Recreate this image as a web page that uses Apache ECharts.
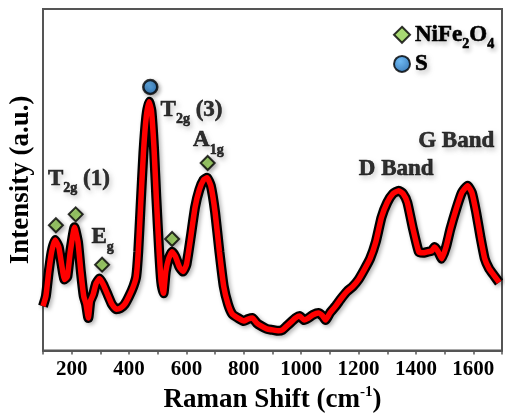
<!DOCTYPE html>
<html>
<head>
<meta charset="utf-8">
<script src="https://cdn.jsdelivr.net/npm/echarts@6/dist/echarts.min.js"></script>
<style>
  html, body { margin: 0; padding: 0; background: #fff; }
  #chart { width: 505px; height: 419px; }
</style>
</head>
<body>
<div id="chart"></div>
<script>
// Raman spectrum
const ramanShift = [100, 110, 120, 130, 142, 155, 165, 175, 185, 195, 210, 222, 232, 242, 250, 258, 265, 275, 285, 297,
  310, 325, 340, 355, 370, 385, 400, 415, 425, 432, 440, 450, 460, 470, 478, 487, 495, 505, 512, 520,
  528, 538, 550, 562, 575, 588, 600, 615, 630, 645, 660, 672, 685, 700, 715, 730, 745, 760, 780, 800,
  815, 830, 845, 860, 880, 900, 920, 935, 950, 965, 980, 995, 1010, 1025, 1040, 1060, 1075, 1085, 1100, 1120,
  1140, 1160, 1180, 1200, 1220, 1240, 1260, 1280, 1300, 1320, 1340, 1355, 1370, 1390, 1410, 1425, 1440, 1455, 1465, 1478,
  1490, 1505, 1520, 1540, 1560, 1580, 1595, 1610, 1625, 1640, 1655, 1670, 1690]
const intensity = [45, 55, 80, 100, 112, 105, 87, 72, 75, 100, 125, 110, 80, 55, 47, 33, 50, 57, 68, 73,
  67, 57, 47, 42, 43, 47, 55, 65, 75, 100, 145, 200, 237, 252, 243, 205, 155, 100, 70, 58,
  80, 93, 100, 95, 85, 80, 87, 115, 145, 163, 173, 175, 167, 140, 100, 65, 47, 37, 33, 30,
  32, 33, 28, 25, 22, 21, 20, 21, 25, 29, 33, 35, 31, 33, 36, 38, 35, 31, 38, 45,
  53, 60, 65, 72, 82, 93, 110, 135, 150, 159, 162, 159, 150, 123, 100, 99, 100, 101, 105, 100,
  93, 105, 123, 143, 160, 167, 160, 140, 115, 93, 83, 77, 69]

// peak markers
const spinelPeaks = [[145, 127], [214, 138], [306, 87], [550, 113], [674, 190]]
const sulfurPeaks = [[474, 267]]

// annotation labels: [x, y, text]
const peakLabels = [
  [117, 174, '{m|T}{s|2g}{m| (1)}'],
  [269, 115, '{m|E}{s|g}'],
  [510, 244, '{m|T}{s|2g}{m| (3)}'],
  [623, 213, '{m|A}{s|1g}'],
  [1201, 184, '{m|D Band}'],
  [1408, 212, '{m|G Band}']
]

const xTicks = { min: 100, max: 1700, step: 100 }

const serif = 'Liberation Serif'
// bold text with a soft drop shadow, as in the figure
const ink = {
  color: '#000',
  textBorderColor: '#000',
  textBorderWidth: 0.6,
  textShadowColor: 'rgba(0,0,0,0.22)',
  textShadowBlur: 5,
  textShadowOffsetX: 2,
  textShadowOffsetY: 3
}
const rich = {
  m: { fontFamily: serif, fontWeight: 'bold', fontSize: 23, lineHeight: 34, verticalAlign: 'middle', ...ink },
  s: { fontFamily: serif, fontWeight: 'bold', fontSize: 14, lineHeight: 34, verticalAlign: 'bottom', ...ink }
}

const spectrum = ramanShift.map((x, i) => [x, intensity[i]])

const chart = echarts.init(document.getElementById('chart'))
chart.setOption({
  animation: false,
  grid: {
    left: 43, top: 9, right: -3, bottom: 64,
    show: true, borderColor: '#555', borderWidth: 2
  },
  legend: {
    orient: 'vertical',
    left: 388, top: 18,
    itemGap: 0,
    itemWidth: 16, itemHeight: 16,
    data: ['NiFe2O4', 'S'],
    formatter: function (name) {
      return name === 'NiFe2O4' ? '{m|NiFe}{s|2}{m|O}{s|4}' : '{m|S}'
    },
    textStyle: { color: '#000', rich: rich }
  },
  xAxis: {
    type: 'value',
    min: xTicks.min, max: xTicks.max, interval: xTicks.step,
    name: '{m|Raman Shift (cm}{sup|-1}{m|)}',
    nameLocation: 'middle',
    nameGap: 27,
    nameTextStyle: {
      rich: {
        m: { fontFamily: serif, fontWeight: 'bold', fontSize: 27, color: '#000', lineHeight: 32, verticalAlign: 'middle' },
        sup: { fontFamily: serif, fontWeight: 'bold', fontSize: 15, color: '#000', lineHeight: 32, verticalAlign: 'top' }
      }
    },
    splitLine: { show: false },
    axisLine: { lineStyle: { color: '#555', width: 2 } },
    axisTick: { show: true, inside: false, length: 4, lineStyle: { color: '#555', width: 1.5 } },
    axisLabel: {
      margin: 8,
      fontFamily: serif, fontWeight: 'bold', fontSize: 21, color: '#000',
      formatter: function (v) { return v % 200 === 0 ? String(v) : '' }
    }
  },
  yAxis: {
    type: 'value',
    min: 0, max: 346,
    name: 'Intensity (a.u.)',
    nameLocation: 'middle',
    nameGap: 8,
    nameTextStyle: { fontFamily: serif, fontWeight: 'bold', fontSize: 27, color: '#000' },
    splitLine: { show: false },
    axisLine: { show: true, lineStyle: { color: '#555', width: 2 } },
    axisTick: { show: false },
    axisLabel: { show: false }
  },
  series: [
    {
      name: 'outline',
      type: 'line',
      data: spectrum,
      symbol: 'none',
      smooth: 0.15,
      lineStyle: { color: '#000', width: 10, shadowColor: 'rgba(0,0,0,0.3)', shadowBlur: 4, shadowOffsetX: 2, shadowOffsetY: 2 },
      silent: true,
      z: 2
    },
    {
      name: 'spectrum',
      type: 'line',
      data: spectrum,
      symbol: 'none',
      smooth: 0.15,
      lineStyle: { color: '#ff0000', width: 5.5 },
      silent: true,
      z: 3
    },
    {
      name: 'NiFe2O4',
      type: 'scatter',
      data: spinelPeaks,
      symbol: 'diamond',
      symbolSize: 14,
      itemStyle: { color: '#92d050', borderColor: '#000', borderWidth: 2, shadowColor: 'rgba(0,0,0,0.35)', shadowBlur: 4, shadowOffsetX: 2, shadowOffsetY: 2 },
      z: 5
    },
    {
      name: 'S',
      type: 'scatter',
      data: sulfurPeaks,
      symbol: 'circle',
      symbolSize: 14,
      itemStyle: {
        color: new echarts.graphic.RadialGradient(0.4, 0.35, 0.7, [
          { offset: 0, color: '#4aa8f0' },
          { offset: 1, color: '#0a5aa8' }
        ]),
        borderColor: '#000', borderWidth: 2.5,
        shadowColor: 'rgba(0,0,0,0.35)', shadowBlur: 4, shadowOffsetX: 2, shadowOffsetY: 2
      },
      z: 5
    },
    {
      name: 'labels',
      type: 'scatter',
      data: peakLabels.map(p => ({ value: [p[0], p[1]], text: p[2] })),
      symbolSize: 0,
      silent: true,
      label: {
        show: true,
        position: 'right',
        distance: 0,
        color: '#000',
        formatter: function (p) { return p.data.text },
        rich: rich
      },
      z: 6
    }
  ]
})
</script>
</body>
</html>
